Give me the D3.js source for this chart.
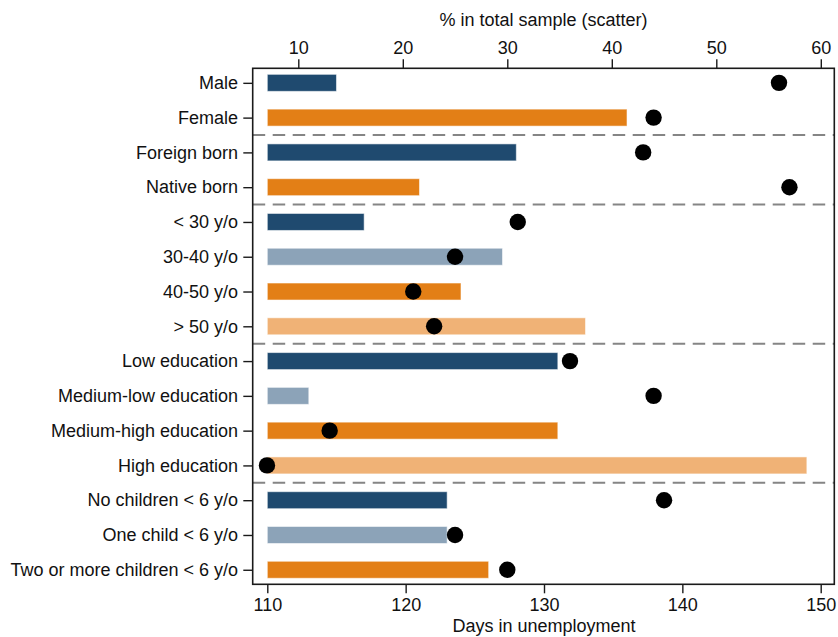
<!DOCTYPE html>
<html>
<head>
<meta charset="utf-8">
<script src="https://cdn.jsdelivr.net/npm/d3@7"></script>
<style>
  html, body { margin: 0; padding: 0; background: #fff; }
  svg { display: block; font-family: "Liberation Sans", Arial, Helvetica, sans-serif; }
</style>
</head>
<body>
<svg id="chart" width="838" height="637"></svg>
<script>
// Groups, in top-to-bottom order
const categories = [
  "Male", "Female",
  "Foreign born", "Native born",
  "< 30 y/o", "30-40 y/o", "40-50 y/o", "> 50 y/o",
  "Low education", "Medium-low education", "Medium-high education", "High education",
  "No children < 6 y/o", "One child < 6 y/o", "Two or more children < 6 y/o"
];
// Average days in unemployment (bars)
const days = [115, 136, 128, 121, 117, 127, 124, 133, 131, 113, 131, 149, 123, 123, 126];
// Share of the total sample, % (scatter)
const share = [56, 44, 43, 57, 31, 25, 21, 23, 36, 44, 13, 7, 45, 25, 30];
// Colour role of each bar
const shade = ["dark", "orange", "dark", "orange", "dark", "light", "orange", "peach",
               "dark", "light", "orange", "peach", "dark", "light", "orange"];
// Rows after which a block separator is drawn
const breaksAfter = ["Female", "Native born", "> 50 y/o", "High education"];
const dayTicks = [110, 120, 130, 140, 150];
const pctTicks = [10, 20, 30, 40, 50, 60];

const palette = { dark: "#1f4a6f", orange: "#e37f16", light: "#8ca3b8", peach: "#f0b276" };

const frame = { left: 252.7, right: 834.3, top: 68.3, bottom: 584.3 };
const svg = d3.select("#chart");

const y = d3.scalePoint().domain(categories)
  .range([frame.top, frame.bottom]).padding(0.418);
const xDays = d3.scaleLinear().domain([110, 150]).range([267.3, 820.7]);
const xPct = d3.scaleLinear().domain([10, 60]).range([298.3, 820.8]);
const step = y.step();
const barH = 17;

// Bars start at the 110-day baseline
svg.append("g").selectAll("rect").data(categories).join("rect")
  .attr("x", xDays(110))
  .attr("y", d => y(d) - barH / 2)
  .attr("width", (d, i) => xDays(days[i]) - xDays(110))
  .attr("height", barH)
  .attr("fill", (d, i) => palette[shade[i]])
  .attr("stroke", "#ffffff").attr("stroke-opacity", 0.55).attr("stroke-width", 1);

// Block separators
svg.append("g").selectAll("line").data(breaksAfter).join("line")
  .attr("x1", frame.left).attr("x2", frame.right)
  .attr("y1", d => y(d) + step / 2).attr("y2", d => y(d) + step / 2)
  .attr("stroke", "#858585").attr("stroke-width", 2)
  .attr("stroke-dasharray", "12.5 7.5");

// Sample shares
svg.append("g").selectAll("circle").data(categories).join("circle")
  .attr("cx", (d, i) => xPct(share[i]))
  .attr("cy", d => y(d))
  .attr("r", 8.2)
  .attr("fill", "#000");

// Frame
svg.append("rect")
  .attr("x", frame.left).attr("y", frame.top)
  .attr("width", frame.right - frame.left).attr("height", frame.bottom - frame.top)
  .attr("fill", "none").attr("stroke", "#1a1a1a").attr("stroke-width", 1.6);

const fontSize = 18;
function styleAxis(g) {
  g.select(".domain").remove();
  g.selectAll(".tick line").attr("stroke", "#1a1a1a").attr("stroke-width", 1.4);
  g.selectAll(".tick text").attr("fill", "#111").attr("font-size", fontSize)
    .attr("font-family", "'Liberation Sans', Arial, Helvetica, sans-serif");
}

// Left axis: group names
svg.append("g").attr("transform", `translate(${frame.left},0)`)
  .call(d3.axisLeft(y).tickSize(9.4).tickPadding(5.2))
  .call(styleAxis);

// Bottom axis: days
svg.append("g").attr("transform", `translate(0,${frame.bottom})`)
  .call(d3.axisBottom(xDays).tickValues(dayTicks).tickSize(9).tickPadding(5))
  .call(styleAxis);

// Top axis: sample share
svg.append("g").attr("transform", `translate(0,${frame.top})`)
  .call(d3.axisTop(xPct).tickValues(pctTicks).tickSize(9).tickPadding(5))
  .call(styleAxis);

// Axis titles
svg.append("text")
  .attr("x", (xPct(10) + xPct(60)) / 2 - 16).attr("y", 26)
  .attr("text-anchor", "middle").attr("font-size", fontSize).attr("fill", "#111")
  .text("% in total sample (scatter)");
svg.append("text")
  .attr("x", (xDays(110) + xDays(150)) / 2).attr("y", 632)
  .attr("text-anchor", "middle").attr("font-size", fontSize).attr("fill", "#111")
  .text("Days in unemployment");
</script>
</body>
</html>
